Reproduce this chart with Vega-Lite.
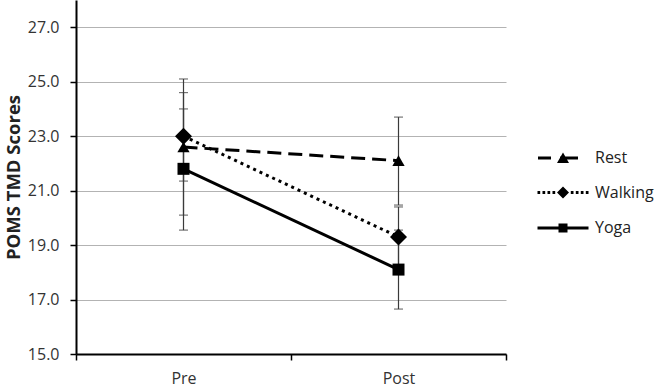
{
  "$schema": "https://vega.github.io/schema/vega-lite/v6.json",
  "width": 430,
  "height": 354,
  "autosize": {"type": "none"},
  "padding": {"left": 76, "top": 0, "right": 153, "bottom": 34},
  "background": "white",
  "config": {
    "view": {"stroke": null},
    "font": "Open Sans",
    "axisY": {
      "grid": true, "gridColor": "#b3b3b3", "gridWidth": 1,
      "domainColor": "black", "domainWidth": 2,
      "tickColor": "black", "tickWidth": 1.5, "tickSize": 6,
      "labelPadding": 11, "labelFontSize": 16, "labelColor": "#333333", "labelFont": "Open Sans",
      "titleFontSize": 18.5, "titleFontWeight": "bold", "titleColor": "#222222", "titleFont": "Open Sans", "titlePadding": 4
    },
    "axisX": {
      "grid": false, "domainColor": "black", "domainWidth": 2,
      "tickColor": "black", "tickWidth": 1.5, "tickSize": 6, "tickBand": "extent",
      "labelPadding": 10, "labelFontSize": 16, "labelColor": "#333333", "labelFont": "Open Sans", "labelAngle": 0
    }
  },
  "data": {
    "values": [
      {"time": "Pre", "group": "Rest", "mean": 22.6, "lo": 20.1, "hi": 25.1},
      {"time": "Pre", "group": "Walking", "mean": 23.0, "lo": 21.35, "hi": 24.6},
      {"time": "Pre", "group": "Yoga", "mean": 21.8, "lo": 19.55, "hi": 24.0},
      {"time": "Post", "group": "Rest", "mean": 22.1, "lo": 20.47, "hi": 23.7},
      {"time": "Post", "group": "Walking", "mean": 19.3, "lo": 18.2, "hi": 20.4},
      {"time": "Post", "group": "Yoga", "mean": 18.1, "lo": 16.65, "hi": 19.55}
    ]
  },
  "encoding": {
    "x": {
      "field": "time", "type": "nominal", "sort": ["Pre", "Post"],
      "scale": {"type": "band", "paddingInner": 0, "paddingOuter": 0},
      "axis": {"title": null}
    }
  },
  "layer": [
    {
      "mark": {"type": "rule", "color": "#3a3a3a", "strokeWidth": 1.2},
      "encoding": {
        "y": {"field": "lo", "type": "quantitative", "scale": {"domain": [15, 28], "nice": false, "zero": false},
              "axis": {"values": [15, 17, 19, 21, 23, 25, 27], "format": ".1f", "title": "POMS TMD Scores"}},
        "y2": {"field": "hi"}
      }
    },
    {
      "mark": {"type": "tick", "color": "#3a3a3a", "thickness": 1.2, "size": 9, "orient": "horizontal"},
      "encoding": {
        "y": {"field": "lo", "type": "quantitative", "axis": {"values": [15, 17, 19, 21, 23, 25, 27], "format": ".1f", "title": "POMS TMD Scores"}}
      }
    },
    {
      "mark": {"type": "tick", "color": "#3a3a3a", "thickness": 1.2, "size": 9, "orient": "horizontal"},
      "encoding": {
        "y": {"field": "hi", "type": "quantitative", "axis": {"values": [15, 17, 19, 21, 23, 25, 27], "format": ".1f", "title": "POMS TMD Scores"}}
      }
    },
    {
      "transform": [{"filter": "datum.group === 'Rest'"}],
      "mark": {"type": "line", "color": "black", "strokeWidth": 3, "strokeDash": [14, 7]},
      "encoding": {
        "y": {"field": "mean", "type": "quantitative", "axis": {"values": [15, 17, 19, 21, 23, 25, 27], "format": ".1f", "title": "POMS TMD Scores"}}
      }
    },
    {
      "transform": [{"filter": "datum.group === 'Walking'"}],
      "mark": {"type": "line", "color": "black", "strokeWidth": 3, "strokeDash": [3, 4]},
      "encoding": {
        "y": {"field": "mean", "type": "quantitative", "axis": {"values": [15, 17, 19, 21, 23, 25, 27], "format": ".1f", "title": "POMS TMD Scores"}}
      }
    },
    {
      "transform": [{"filter": "datum.group === 'Yoga'"}],
      "mark": {"type": "line", "color": "black", "strokeWidth": 3},
      "encoding": {
        "y": {"field": "mean", "type": "quantitative", "axis": {"values": [15, 17, 19, 21, 23, 25, 27], "format": ".1f", "title": "POMS TMD Scores"}}
      }
    },
    {
      "transform": [{"filter": "datum.group === 'Rest'"}],
      "mark": {"type": "point", "filled": true, "color": "black", "opacity": 1, "shape": "triangle-up", "size": 150},
      "encoding": {
        "y": {"field": "mean", "type": "quantitative", "axis": {"values": [15, 17, 19, 21, 23, 25, 27], "format": ".1f", "title": "POMS TMD Scores"}}
      }
    },
    {
      "transform": [{"filter": "datum.group === 'Walking'"}],
      "mark": {"type": "point", "filled": true, "color": "black", "opacity": 1, "shape": "diamond", "size": 290},
      "encoding": {
        "y": {"field": "mean", "type": "quantitative", "axis": {"values": [15, 17, 19, 21, 23, 25, 27], "format": ".1f", "title": "POMS TMD Scores"}}
      }
    },
    {
      "transform": [{"filter": "datum.group === 'Yoga'"}],
      "mark": {"type": "point", "filled": true, "color": "black", "opacity": 1, "shape": "square", "size": 144},
      "encoding": {
        "y": {"field": "mean", "type": "quantitative", "axis": {"values": [15, 17, 19, 21, 23, 25, 27], "format": ".1f", "title": "POMS TMD Scores"}}
      }
    },
    {
      "mark": {"type": "point", "filled": true, "color": "black", "opacity": 0},
      "encoding": {
        "y": {"field": "mean", "type": "quantitative", "axis": {"values": [15, 17, 19, 21, 23, 25, 27], "format": ".1f", "title": "POMS TMD Scores"}},
        "shape": {"field": "group", "type": "nominal",
          "scale": {"domain": ["Rest", "Walking", "Yoga"],
            "range": [
              "M-2.5,-0.14H-1.2V0.14H-2.5ZM-0.3,-0.14H1.5V0.14H-0.3ZM-0.6,0.5L0,-0.55L0.6,0.5Z",
              "M-2.55,-0.14H-2.28V0.14H-2.55ZM-2.05,-0.14H-1.78V0.14H-2.05ZM-1.55,-0.14H-1.28V0.14H-1.55ZM-1.05,-0.14H-0.78V0.14H-1.05ZM0,-0.6L0.6,0L0,0.6L-0.6,0ZM0.78,-0.14H1.05V0.14H0.78ZM1.28,-0.14H1.55V0.14H1.28ZM1.78,-0.14H2.05V0.14H1.78ZM2.28,-0.14H2.55V0.14H2.28Z",
              "M-2.55,-0.14H2.55V0.14H-2.55ZM-0.45,-0.45H0.45V0.45H-0.45Z"
            ]},
          "legend": {
            "title": null, "orient": "none", "legendX": 476, "legendY": 147, "padding": 0,
            "symbolSize": 400, "labelOffset": 21, "labelFontSize": 16, "labelColor": "#222222", "labelFont": "Open Sans",
            "rowPadding": 15.5,
            "symbolOpacity": 1,
            "encode": {"symbols": {"opacity": {"value": 1}, "fill": {"value": "black"}}}
          }
        }
      }
    }
  ]
}
